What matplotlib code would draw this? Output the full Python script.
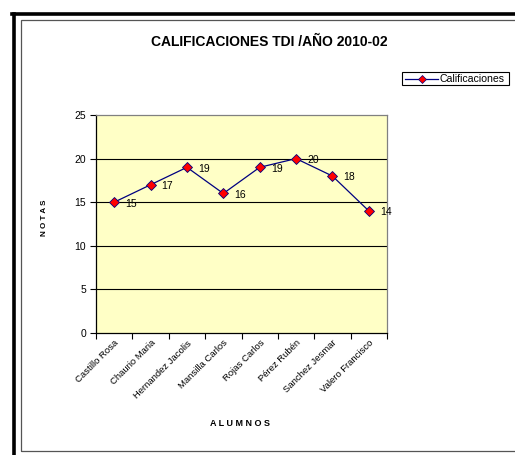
import matplotlib
matplotlib.use("Agg")
import matplotlib.pyplot as plt
from matplotlib.patches import Rectangle
from matplotlib.lines import Line2D
import numpy as np

plt.rcParams['font.family'] = ['Liberation Sans', 'DejaVu Sans']

alumnos = ["Castillo Rosa", "Chaurio Maria", "Hernandez Jacolis", "Mansilla Carlos",
           "Rojas Carlos", "Pérez Rubén", "Sanchez Jesmar", "Valero Francisco"]
notas = [15, 17, 19, 16, 19, 20, 18, 14]
y_ticks = [0, 5, 10, 15, 20, 25]

W, H = 515, 455
fig = plt.figure(figsize=(W / 100, H / 100), dpi=100)
fig.patch.set_facecolor("white")

def fx(px):
    return px / W

def fy(py):
    return 1 - py / H

# frame: thick black top/left edge, thin gray inner border
fig.add_artist(Line2D([fx(13.5), fx(13.5)], [fy(13.5), fy(455)], color="black", lw=2.6,
                      transform=fig.transFigure))
fig.add_artist(Line2D([fx(12), fx(515)], [fy(13.5), fy(13.5)], color="black", lw=2.6,
                      transform=fig.transFigure))
fig.add_artist(Rectangle((fx(21), fy(451)), fx(520) - fx(21), fy(20.5) - fy(451),
                         fill=False, edgecolor="#555555", lw=0.9, transform=fig.transFigure))

# plot area
x0, x1, y0, y1 = 96, 387, 115, 333
ax = fig.add_axes([fx(x0), fy(y1), fx(x1) - fx(x0), fy(y0) - fy(y1)])
ax.set_facecolor("#FFFFC6")
for s in ax.spines.values():
    s.set_color("#808080")
    s.set_linewidth(0.9)
ax.spines['left'].set_color("black")
ax.spines['bottom'].set_color("black")

n = len(alumnos)
xs = np.arange(n)
ax.set_xlim(-0.5, n - 0.5)
ax.set_ylim(0, 25)
ax.set_yticks(y_ticks)
ax.set_yticklabels([str(v) for v in y_ticks], fontsize=7.5)
for v in y_ticks[1:-1]:
    ax.axhline(v, color="black", lw=0.8, zorder=1)

ax.set_xticks(np.arange(n + 1) - 0.5)
ax.set_xticklabels([])
ax.set_xticks(xs, minor=True)
ax.set_xticklabels(alumnos, minor=True, rotation=45, ha="right", va="top",
                   fontsize=6.8, rotation_mode="anchor")
ax.tick_params(axis="x", which="minor", length=0, pad=4)
ax.tick_params(axis="x", which="major", length=4, width=0.8, direction="out")
ax.tick_params(axis="y", length=4, width=0.8, direction="out", pad=3)

ax.plot(xs, notas, color="#000080", lw=0.9, zorder=3,
        marker="D", markersize=5.5, markerfacecolor="#FF0000", markeredgecolor="#000080",
        markeredgewidth=0.6)
for x, v in zip(xs, notas):
    ax.annotate(str(v), (x, v), xytext=(8, -1), textcoords="offset points",
                fontsize=7.5, ha="left", va="center")

fig.text(fx(269), fy(42), "CALIFICACIONES TDI /AÑO 2010-02", fontsize=10, fontweight="bold",
         ha="center", va="center")
fig.text(fx(240), fy(424), "A L U M N O S", fontsize=6.5, fontweight="bold",
         ha="center", va="center")
fig.text(fx(44), fy(218), "N O T A S", fontsize=5.8, fontweight="bold",
         ha="center", va="center", rotation=90)

# legend box
lx0, lx1, ly0, ly1 = 402, 509, 72, 85
fig.add_artist(Rectangle((fx(lx0), fy(ly1)), fx(lx1) - fx(lx0), fy(ly0) - fy(ly1),
                         fill=False, edgecolor="black", lw=0.8, transform=fig.transFigure))
ym = (ly0 + ly1) / 2
fig.add_artist(Line2D([fx(405), fx(438)], [fy(ym), fy(ym)], color="#000080", lw=0.9,
                      transform=fig.transFigure))
fig.add_artist(Line2D([fx(421.5)], [fy(ym)], marker="D", markersize=4,
                      markerfacecolor="#FF0000", markeredgecolor="#000080",
                      markeredgewidth=0.5, transform=fig.transFigure))
fig.text(fx(439), fy(ym), "Calificaciones", fontsize=7.6, ha="left", va="center")

fig.savefig("out.png", dpi=100)
